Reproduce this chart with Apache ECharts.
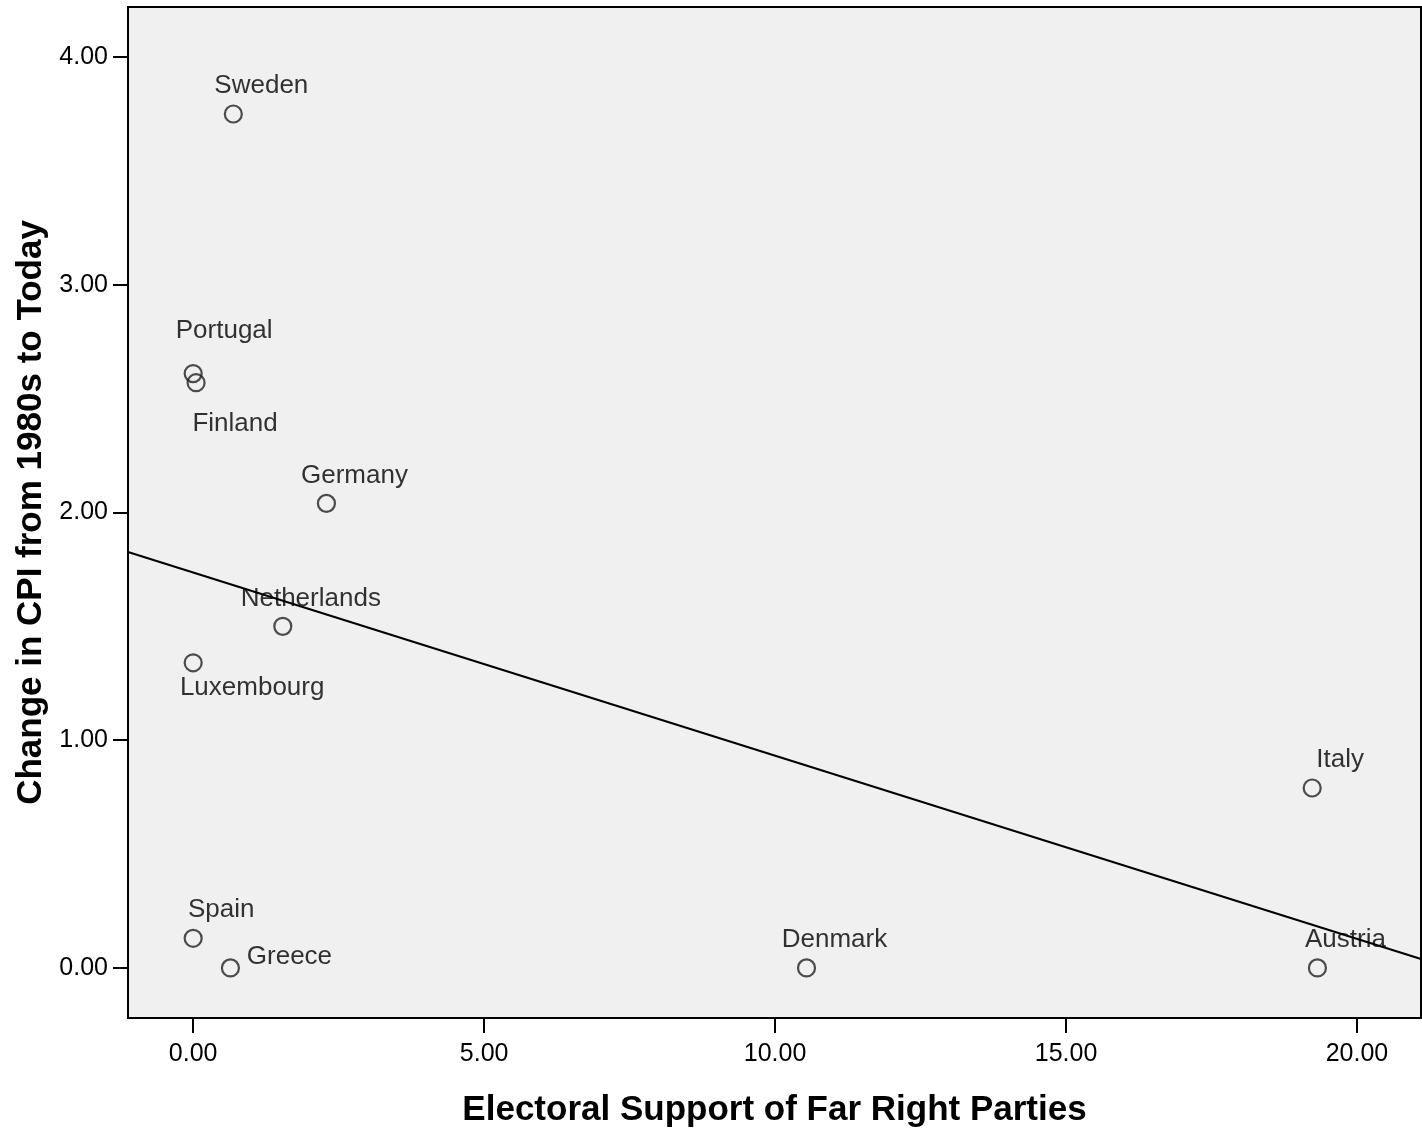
<!DOCTYPE html>
<html>
<head>
<meta charset="utf-8">
<title>Far right support vs change in CPI</title>
<script src="https://cdn.jsdelivr.net/npm/echarts@6/dist/echarts.min.js"></script>
<style>
  html, body { margin: 0; padding: 0; background: #ffffff; }
  #chart { width: 1422px; height: 1130px; }
</style>
</head>
<body>
<div id="chart"></div>
<script>
// Countries with electoral support for far right parties (%) and change in CPI
const countries = ['Sweden', 'Portugal', 'Finland', 'Germany', 'Netherlands', 'Luxembourg',
                   'Italy', 'Spain', 'Greece', 'Denmark', 'Austria'];
const farRightSupport = [0.69, 0.00, 0.05, 2.29, 1.54, 0.00, 19.23, 0.00, 0.64, 10.54, 19.32];
const cpiChange = [3.75, 2.61, 2.57, 2.04, 1.50, 1.34, 0.79, 0.13, 0.00, 0.00, 0.00];

const xTicks = [0, 5, 10, 15, 20];
const yTicks = [0, 1, 2, 3, 4];

// Label placement around each marker (pixels from the marker centre)
const defaultLabelOffset = [28, -28];
const labelOffsets = {
  Portugal: [31, -43],
  Finland: [39, 41],
  Luxembourg: [59, 25],
  Greece: [59, -11]
};

const X_MIN = -1.12, X_MAX = 21.1;
const Y_MIN = -0.22, Y_MAX = 4.22;

// Ordinary least squares fit line
function linearFit(xs, ys) {
  const n = xs.length;
  const mx = xs.reduce((a, b) => a + b, 0) / n;
  const my = ys.reduce((a, b) => a + b, 0) / n;
  let sxy = 0, sxx = 0;
  for (let i = 0; i < n; i++) {
    sxy += (xs[i] - mx) * (ys[i] - my);
    sxx += (xs[i] - mx) * (xs[i] - mx);
  }
  const slope = sxy / sxx;
  return { slope, intercept: my - slope * mx };
}
const fit = linearFit(farRightSupport, cpiChange);

const FONT = '"Liberation Sans", Arial, sans-serif';

const scatterData = countries.map((name, i) => ({
  name,
  value: [farRightSupport[i], cpiChange[i]],
  label: { offset: labelOffsets[name] || defaultLabelOffset }
}));

const chart = echarts.init(document.getElementById('chart'), null, { renderer: 'canvas' });
chart.setOption({
  animation: false,
  backgroundColor: '#ffffff',
  grid: {
    left: 128, top: 7, right: 1, bottom: 112,
    outerBoundsMode: 'none',
    containLabel: false,
    show: true,
    backgroundColor: '#f0f0f0',
    borderColor: '#000000',
    borderWidth: 2
  },
  xAxis: {
    type: 'value',
    min: X_MIN, max: X_MAX,
    name: 'Electoral Support of Far Right Parties',
    nameLocation: 'middle',
    nameGap: 75,
    nameTextStyle: { fontFamily: FONT, fontWeight: 'bold', fontSize: 35, color: '#000' },
    axisLine: { show: true, onZero: false, lineStyle: { color: '#000', width: 2 } },
    axisTick: { show: true, length: 15, customValues: xTicks, lineStyle: { color: '#000', width: 2 } },
    axisLabel: {
      customValues: xTicks,
      margin: 24,
      fontFamily: FONT, fontSize: 25, color: '#000',
      formatter: v => v.toFixed(2)
    },
    splitLine: { show: false }
  },
  yAxis: {
    type: 'value',
    min: Y_MIN, max: Y_MAX,
    name: 'Change in CPI from 1980s to Today',
    nameLocation: 'middle',
    nameGap: 77,
    nameTextStyle: { fontFamily: FONT, fontWeight: 'bold', fontSize: 35, color: '#000' },
    axisLine: { show: true, onZero: false, lineStyle: { color: '#000', width: 2 } },
    axisTick: { show: true, length: 15, customValues: yTicks, lineStyle: { color: '#000', width: 2 } },
    axisLabel: {
      customValues: yTicks,
      margin: 20,
      fontFamily: FONT, fontSize: 25, color: '#000',
      formatter: v => v.toFixed(2)
    },
    splitLine: { show: false }
  },
  series: [
    {
      type: 'line',
      data: [[X_MIN, fit.intercept + fit.slope * X_MIN], [X_MAX, fit.intercept + fit.slope * X_MAX]],
      symbol: 'none',
      lineStyle: { color: '#000', width: 2 },
      clip: true,
      silent: true,
      z: 2
    },
    {
      type: 'scatter',
      data: scatterData,
      symbol: 'circle',
      symbolSize: 17,
      itemStyle: { color: 'transparent', borderColor: '#222', borderWidth: 2.2 },
      label: {
        show: true,
        position: 'inside',
        align: 'center',
        verticalAlign: 'middle',
        formatter: p => p.name,
        fontFamily: FONT, fontSize: 26, color: '#000'
      },
      z: 3
    }
  ]
});
</script>
</body>
</html>
